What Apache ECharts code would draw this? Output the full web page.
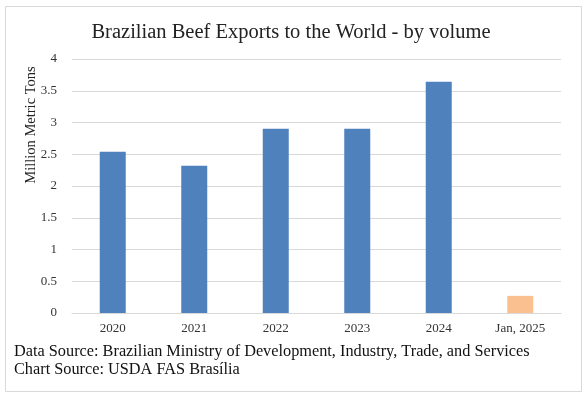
<!DOCTYPE html>
<html>
<head>
<meta charset="utf-8">
<script src="https://cdn.jsdelivr.net/npm/echarts@6/dist/echarts.min.js"></script>
<style>
html,body{margin:0;padding:0;background:#fff;}
#chart{width:582px;height:394px;}
</style>
</head>
<body>
<div id="chart"></div>
<script>
const categories = ['2020', '2021', '2022', '2023', '2024', 'Jan, 2025'];
const volumes = [2.54, 2.32, 2.90, 2.90, 3.64, 0.27];
const barColors = ['#4f81bd', '#4f81bd', '#4f81bd', '#4f81bd', '#4f81bd', '#fac08f'];
const yTicks = [0, 0.5, 1, 1.5, 2, 2.5, 3, 3.5, 4];
const titleText = 'Brazilian Beef Exports to the World - by volume';
const yAxisName = 'Million Metric Tons';
const footnotes = ['Data Source: Brazilian Ministry of Development, Industry, Trade, and Services', 'Chart Source: USDA FAS Brasília'];

const font = '"Liberation Serif", "Times New Roman", serif';
const chart = echarts.init(document.getElementById('chart'), null, {renderer: 'canvas'});
chart.setOption({
  animation: false,
  backgroundColor: '#fff',
  title: {
    text: titleText,
    left: 'center',
    top: 17,
    textStyle: {fontFamily: font, fontWeight: 'normal', fontSize: 20.5, color: '#222'}
  },
  grid: {left: 72, right: 21, top: 59, bottom: 81},
  xAxis: {
    type: 'category',
    data: categories,
    axisLine: {show: true, lineStyle: {color: '#d9d9d9'}},
    axisTick: {show: false},
    axisLabel: {fontFamily: font, fontSize: 13, color: '#333', margin: 9}
  },
  yAxis: {
    type: 'value',
    min: 0, max: 4, interval: 0.5,
    axisLine: {show: false},
    axisTick: {show: false},
    splitLine: {lineStyle: {color: '#d9d9d9'}},
    axisLabel: {
      fontFamily: font, fontSize: 13, color: '#333', margin: 15,
      formatter: v => (yTicks.indexOf(v) >= 0 ? String(v) : '')
    }
  },
  series: [{
    type: 'bar',
    barWidth: 26,
    data: volumes.map((v, i) => ({value: v, itemStyle: {color: barColors[i]}}))
  }],
  graphic: [
    {type: 'rect', left: 3, top: 4, shape: {width: 576, height: 385}, style: {fill: 'none', stroke: '#d9d9d9', lineWidth: 1}, silent: true},
    {type: 'text', x: 31, y: 125, rotation: Math.PI / 2,
      style: {text: yAxisName, fontFamily: font, fontSize: 14.5, fill: '#222', align: 'center', verticalAlign: 'middle'}},
    {type: 'text', left: 14, top: 344, style: {text: footnotes[0], fontFamily: font, fontSize: 16.3, fill: '#111'}},
    {type: 'text', left: 14, top: 362, style: {text: footnotes[1], fontFamily: font, fontSize: 16.3, fill: '#111'}}
  ]
});
</script>
</body>
</html>
